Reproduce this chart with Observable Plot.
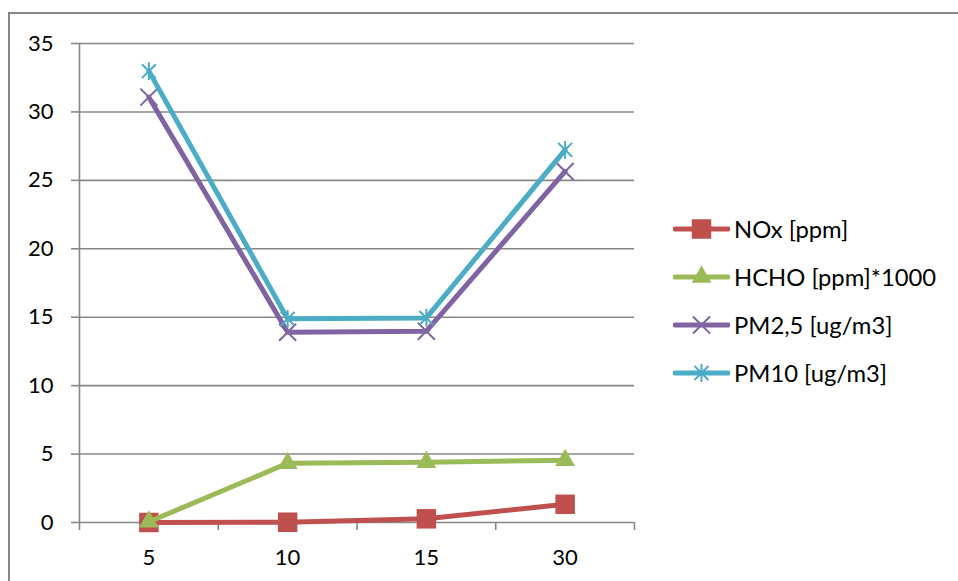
<!DOCTYPE html>
<html>
<head>
<meta charset="utf-8">
<script src="https://cdn.jsdelivr.net/npm/d3@7"></script>
<script src="https://cdn.jsdelivr.net/npm/@observablehq/plot@0.6"></script>
<style>
  html, body { margin: 0; padding: 0; background: #fff; overflow: hidden; }
  #wrap { position: relative; width: 958px; height: 581px; font-family: Lato, "Open Sans", sans-serif; }
  #border { position: absolute; left: 8px; top: 12px; width: 1000px; height: 1000px; border: 2px solid #878787; box-sizing: border-box; }
  #chart { position: absolute; left: 0; top: 0; }
  #legend { position: absolute; left: 673px; top: 0; }
  .row { position: absolute; left: 0; display: flex; align-items: center; white-space: nowrap; font-size: 23.8px; color: #000; }
  .row span { margin-left: 4px; }
</style>
</head>
<body>
<div id="wrap">
  <div id="border"></div>
  <div id="chart"></div>
  <div id="legend"></div>
</div>
<script>
// ---- data ----
const categories = ["5", "10", "15", "30"];
const seriesNames = ["NOx [ppm]", "HCHO [ppm]*1000", "PM2,5 [ug/m3]", "PM10 [ug/m3]"];
const noxValues = [0, 0.02, 0.27, 1.33];
const hchoValues = [0.05, 4.33, 4.4, 4.55];
const pm25Values = [31.08, 13.9, 13.98, 25.65];
const pm10Values = [32.98, 14.88, 14.95, 27.23];
const yTicks = [0, 5, 10, 15, 20, 25, 30, 35];

// ---- styles ----
const colors = ["#C0504D", "#9BBB59", "#8064A2", "#4BACC6"];
// Excel-style star: an X with a vertical stroke
const starSymbol = {
  draw(context, size) {
    const h = Math.sqrt(size) * 0.56;
    const d = h * 0.78;
    context.moveTo(-d, -d); context.lineTo(d, d);
    context.moveTo(d, -d); context.lineTo(-d, d);
    context.moveTo(0, -h); context.lineTo(0, h);
  }
};
const symbols = [d3.symbolSquare, d3.symbolTriangle2, d3.symbolTimes, starSymbol];
const filled = [true, true, false, false];
const radii = [11, 9.5, 7.8, 9];
const allValues = [noxValues, hchoValues, pm25Values, pm10Values];

const rows = [];
allValues.forEach((vals, s) => vals.forEach((v, i) => rows.push({series: s, cat: categories[i], x: i + 0.5, y: v})));

const grey = "#878787";
const marks = [
  Plot.gridY(yTicks, {stroke: grey, strokeOpacity: 1, strokeWidth: 1.6}),
  Plot.ruleX([0], {stroke: grey, strokeWidth: 1.6}),
  Plot.axisY(yTicks, {tickSize: 8, tickPadding: 18, stroke: grey, strokeWidth: 1.6, fontSize: 22, fill: "#000", label: null}),
  Plot.axisX(d3.range(categories.length + 1), {tickSize: 8, stroke: grey, strokeWidth: 1.6, tickFormat: () => "", label: null}),
  Plot.axisX(categories.map((c, i) => i + 0.5), {tickSize: 0, tickPadding: 27, fontSize: 22, fill: "#000", tickFormat: v => categories[Math.floor(v)], label: null})
];
seriesNames.forEach((name, s) => {
  const d = rows.filter(r => r.series === s);
  marks.push(Plot.line(d, {x: "x", y: "y", stroke: colors[s], strokeWidth: 5, strokeLinejoin: "round"}));
  marks.push(Plot.dot(d, {
    x: "x", y: "y", symbol: () => symbols[s], r: radii[s],
    fill: filled[s] ? colors[s] : "none",
    stroke: colors[s], strokeWidth: filled[s] ? 0 : 2
  }));
});

const chart = Plot.plot({
  width: 958, height: 581,
  marginLeft: 79, marginRight: 324, marginTop: 43, marginBottom: 59,
  style: {background: "transparent", fontFamily: "Lato, 'Open Sans', sans-serif"},
  x: {type: "linear", domain: [0, categories.length], axis: null},
  y: {domain: [0, 35], axis: null},
  symbol: {type: "identity"},
  marks
});
document.getElementById("chart").appendChild(chart);

// ---- legend ----
const legend = d3.select("#legend");
const rowTops = [229, 277, 325, 373];
seriesNames.forEach((name, s) => {
  const row = legend.append("div").attr("class", "row").style("top", (rowTops[s] - 14) + "px").style("height", "28px");
  const sv = row.append("svg").attr("width", 57).attr("height", 28);
  sv.append("line").attr("x1", 2).attr("x2", 55).attr("y1", 14).attr("y2", 14)
    .attr("stroke", colors[s]).attr("stroke-width", 5).attr("stroke-linecap", "round");
  sv.append("path").attr("transform", "translate(28.5,14)")
    .attr("d", d3.symbol(symbols[s], radii[s] * radii[s] * Math.PI)())
    .attr("fill", filled[s] ? colors[s] : "none")
    .attr("stroke", colors[s]).attr("stroke-width", filled[s] ? 0 : 2);
  row.append("span").text(name);
});
</script>
</body>
</html>
